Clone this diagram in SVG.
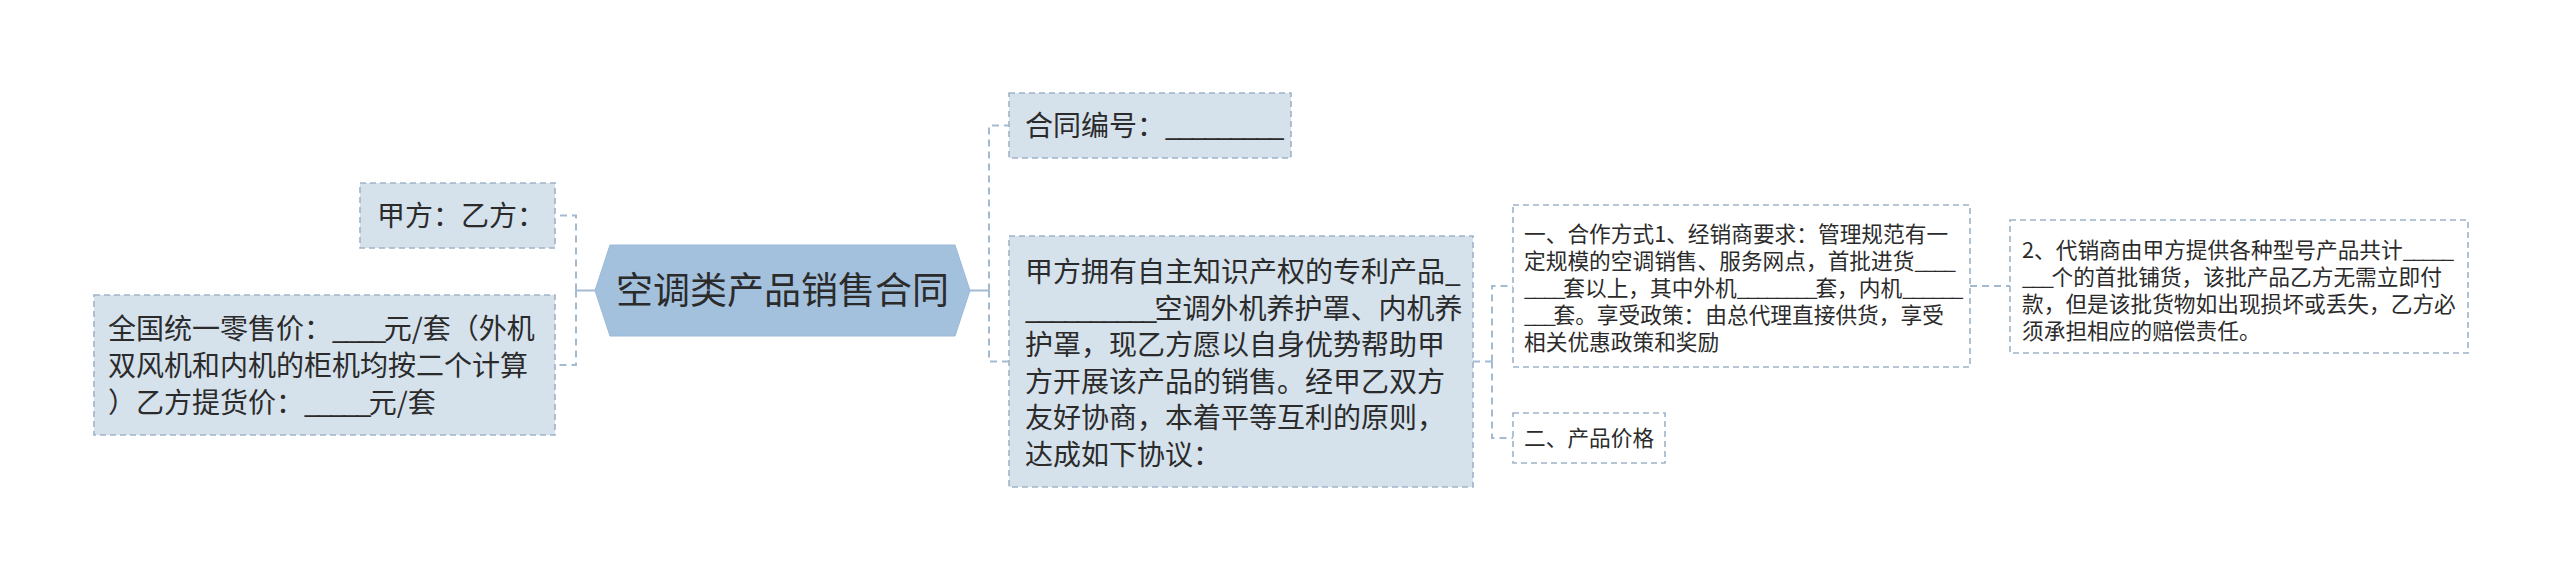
<svg xmlns="http://www.w3.org/2000/svg" width="2560" height="581" viewBox="0 0 2560 581">
<style>
text{font-family:"Noto Sans CJK SC","Noto Sans",sans-serif;fill:#2b2b2b;}
.t28{font-size:28px;}
.t22{font-size:21.7px;}
.t37{font-size:37px;}
.t28 .u{letter-spacing:-2.7px;}
.t22 .u{letter-spacing:-2.3px;}
.box{fill:#d5e1eb;stroke:#9eb4c9;stroke-width:1.6;stroke-dasharray:6 4;}
.wbox{fill:#ffffff;stroke:#9eb4c9;stroke-width:1.6;stroke-dasharray:6 4;}
.con{fill:none;stroke:#a3bbd1;stroke-width:2;}
.dash{stroke-dasharray:7 5;}
</style>
<rect x="0" y="0" width="2560" height="581" fill="#ffffff"/>
<g id="connectors">
<path class="con" d="M595,290.5 H576"/>
<path class="con dash" d="M576,290.5 V215.5 H556"/>
<path class="con dash" d="M576,290.5 V365 H556"/>
<path class="con" d="M970,290.5 H989"/>
<path class="con dash" d="M989,290.5 V125.5 H1009"/>
<path class="con dash" d="M989,290.5 V361.5 H1009"/>
<path class="con dash" d="M1473,361.5 H1492"/>
<path class="con dash" d="M1492,361.5 V286 H1513"/>
<path class="con dash" d="M1492,361.5 V438 H1513"/>
<path class="con dash" d="M1970,286 H2010"/>
</g>
<g id="root">
<polygon points="595,290.5 610,245 955,245 970,290.5 955,336 610,336" fill="#a3c1dd" stroke="#9bbad8" stroke-width="1"/>
<text class="t37" x="782.5" y="303.5" text-anchor="middle">空调类产品销售合同</text>
</g>
<g id="node-jiafang">
<rect class="box" x="360" y="183" width="195" height="65"/>
<text class="t28" x="377" y="226">甲方：乙方：</text>
</g>
<g id="node-price">
<rect class="box" x="94" y="295" width="461" height="140"/>
<text class="t28" x="108" y="339">全国统一零售价：<tspan class="u">____</tspan>元/套（外机</text>
<text class="t28" x="108" y="376">双风机和内机的柜机均按二个计算</text>
<text class="t28" x="108" y="413">）乙方提货价：<tspan class="u">_____</tspan>元/套</text>
</g>
<g id="node-number">
<rect class="box" x="1009" y="93" width="282" height="65"/>
<text class="t28" x="1025" y="136">合同编号：<tspan class="u">_________</tspan></text>
</g>
<g id="node-intro">
<rect class="box" x="1009" y="236" width="464" height="251"/>
<text class="t28" x="1025" y="282">甲方拥有自主知识产权的专利产品<tspan class="u">_</tspan></text>
<text class="t28" x="1025" y="318.5"><tspan class="u">__________</tspan>空调外机养护罩、内机养</text>
<text class="t28" x="1025" y="355">护罩，现乙方愿以自身优势帮助甲</text>
<text class="t28" x="1025" y="391.5">方开展该产品的销售。经甲乙双方</text>
<text class="t28" x="1025" y="428">友好协商，本着平等互利的原则，</text>
<text class="t28" x="1025" y="464.5">达成如下协议：</text>
</g>
<g id="node-coop">
<rect class="wbox" x="1513" y="205" width="457" height="162"/>
<text class="t22" x="1524" y="242">一、合作方式1、经销商要求：管理规范有一</text>
<text class="t22" x="1524" y="269">定规模的空调销售、服务网点，首批进货<tspan class="u">____</tspan></text>
<text class="t22" x="1524" y="296"><tspan class="u">____</tspan>套以上，其中外机<tspan class="u">________</tspan>套，内机<tspan class="u">______</tspan></text>
<text class="t22" x="1524" y="323"><tspan class="u">___</tspan>套。享受政策：由总代理直接供货，享受</text>
<text class="t22" x="1524" y="350">相关优惠政策和奖励</text>
</g>
<g id="node-pricing">
<rect class="wbox" x="1513" y="413" width="152" height="50"/>
<text class="t22" x="1524" y="446">二、产品价格</text>
</g>
<g id="node-consign">
<rect class="wbox" x="2010" y="220" width="458" height="133"/>
<text class="t22" x="2022" y="258">2、代销商由甲方提供各种型号产品共计<tspan class="u">_____</tspan></text>
<text class="t22" x="2022" y="285"><tspan class="u">___</tspan>个的首批铺货，该批产品乙方无需立即付</text>
<text class="t22" x="2022" y="312">款，但是该批货物如出现损坏或丢失，乙方必</text>
<text class="t22" x="2022" y="339">须承担相应的赔偿责任。</text>
</g>
</svg>
